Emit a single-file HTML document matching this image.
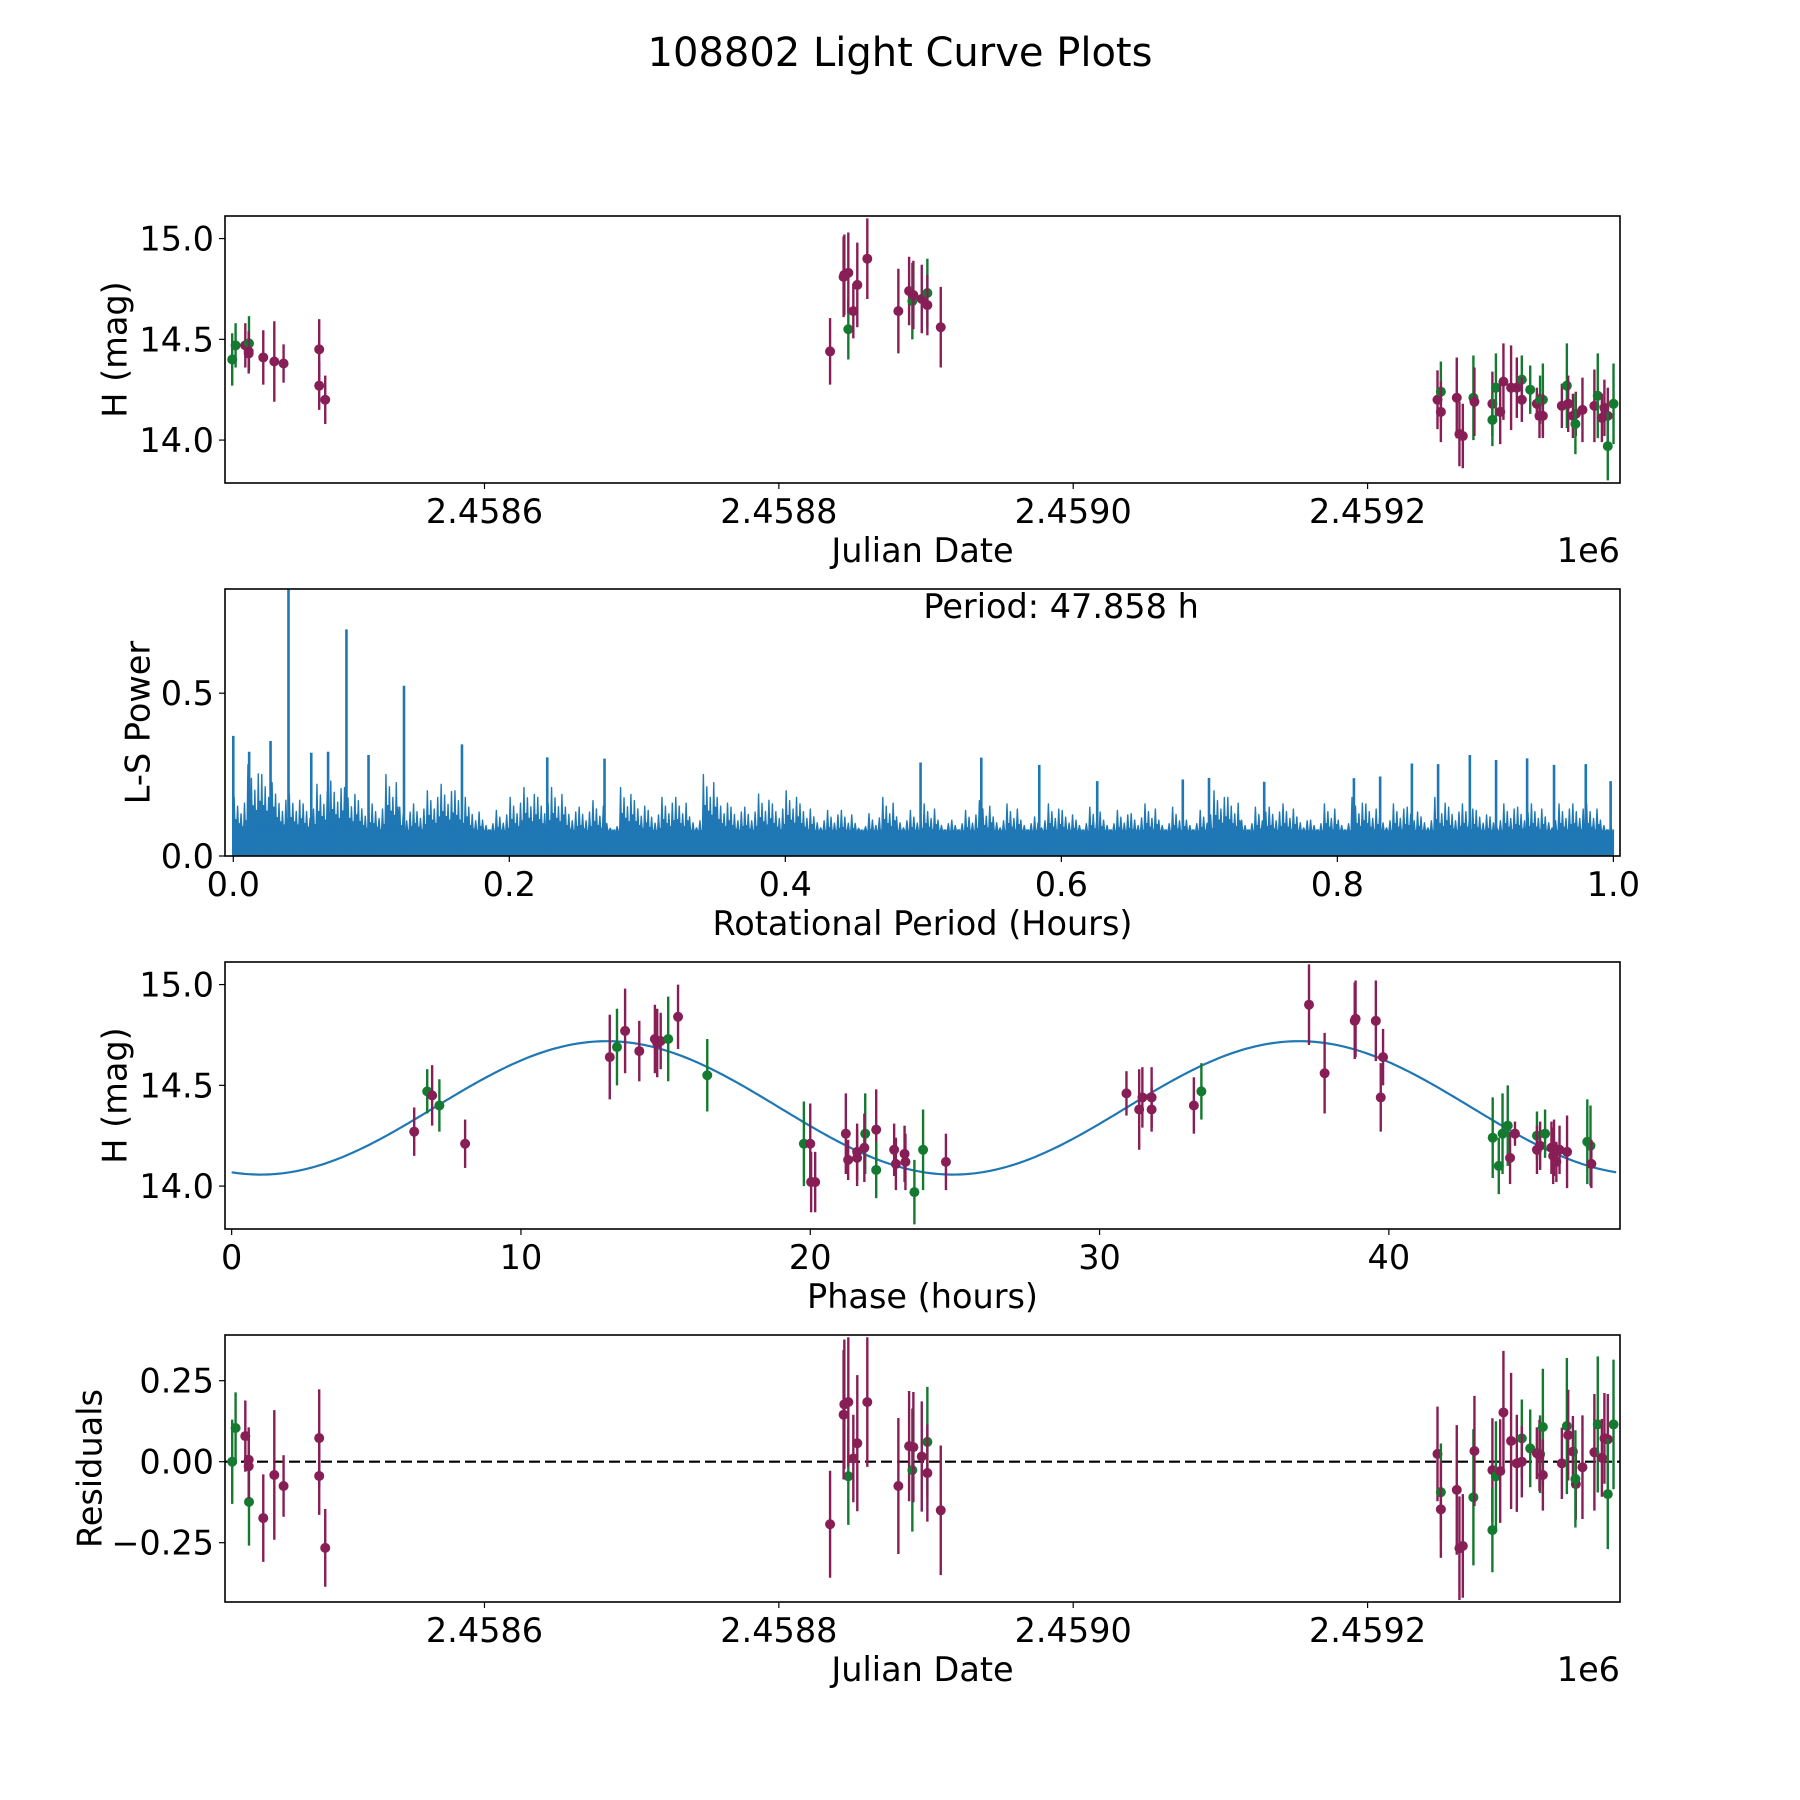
<!DOCTYPE html>
<html><head><meta charset="utf-8"><title>108802 Light Curve Plots</title>
<style>
html,body{margin:0;padding:0;background:#fff;}
svg{display:block;font-family:"DejaVu Sans","Liberation Sans",sans-serif;}
</style></head>
<body>
<svg id="fig" width="1800" height="1800" viewBox="0 0 1800 1800" xmlns="http://www.w3.org/2000/svg">
<rect width="1800" height="1800" fill="#fff"/>
<text x="900" y="66" font-size="40" text-anchor="middle">108802 Light Curve Plots</text>
</svg>
<script>
// ---------- data: top / residual panels (JD - 2458000 days) ----------
const jdDays = [428.6,430.9,437.5,440.0,439.8,439.8,449.7,457.2,463.5,487.7,487.7,491.8,
834.8,847.2,844.5,844.0,847.2,850.6,853.3,860.1,881.2,888.5,890.7,891.4,897.1,900.9,900.9,910.0,
1247.5,1249.8,1249.8,1260.6,1262.4,1264.7,1271.9,1272.6,1284.8,1284.8,1287.2,1290.1,1292.3,1297.5,1301.4,1304.8,1304.8,1310.5,1315.0,1317.2,1316.8,1319.1,1319.1,1332.0,1335.4,1336.3,1339.5,1341.5,1341.2,1346.0,1354.1,1356.4,1359.2,1360.9,1363.2,1363.2,1367.1];
const hMag = [14.40,14.47,14.47,14.48,14.44,14.43,14.41,14.39,14.38,14.45,14.27,14.20,
14.44,14.55,14.82,14.81,14.83,14.64,14.77,14.90,14.64,14.74,14.69,14.72,14.70,14.73,14.67,14.56,
14.20,14.24,14.14,14.21,14.03,14.02,14.21,14.19,14.18,14.10,14.26,14.14,14.29,14.26,14.26,14.30,14.20,14.25,14.18,14.20,14.12,14.20,14.12,14.17,14.27,14.18,14.12,14.13,14.08,14.15,14.17,14.22,14.11,14.16,14.12,13.97,14.18];
const hErr = [0.13,0.11,0.11,0.135,0.10,0.10,0.135,0.20,0.095,0.15,0.12,0.12,
0.165,0.15,0.20,0.20,0.20,0.135,0.21,0.20,0.21,0.17,0.19,0.17,0.17,0.17,0.15,0.20,
0.146,0.15,0.15,0.20,0.16,0.16,0.21,0.17,0.16,0.13,0.17,0.16,0.19,0.21,0.15,0.12,0.11,0.12,0.08,0.12,0.11,0.18,0.11,0.11,0.21,0.14,0.11,0.11,0.15,0.16,0.18,0.21,0.12,0.14,0.14,0.17,0.20];
const band = ['g','g','p','g','p','p','p','p','p','p','p','p',
'p','g','p','p','p','p','p','p','p','p','g','p','p','g','p','p',
'p','g','p','p','p','p','g','p','p','g','g','p','p','p','p','g','p','g','p','g','p','g','p','p','g','p','p','p','g','p','p','g','p','p','p','g','g'];
const resid = [0.00,0.104,0.079,-0.124,0.006,-0.014,-0.174,-0.041,-0.075,0.073,-0.044,-0.266,
-0.193,-0.045,0.177,0.145,0.184,0.01,0.057,0.184,-0.075,0.048,-0.026,0.045,0.016,0.061,-0.035,-0.15,
0.024,-0.094,-0.147,-0.087,-0.267,-0.26,-0.11,0.033,-0.026,-0.211,-0.045,-0.029,0.152,0.064,-0.005,0.072,0.0,0.041,0.026,0.023,0.019,0.107,-0.041,-0.005,0.11,0.082,0.031,-0.069,-0.053,-0.017,0.029,0.115,0.012,0.072,0.069,-0.10,0.115];
// ---------- data: phase panel ----------
const phaseHours = [6.31,6.76,6.93,7.18,8.07,13.07,13.32,13.60,14.09,14.63,14.71,14.83,15.09,15.43,16.44,19.78,20.0,20.03,20.17,21.23,21.31,21.62,21.62,21.90,21.87,22.28,22.28,22.90,22.96,23.26,23.29,23.60,23.90,24.69,
30.93,31.37,31.48,31.80,31.80,33.26,33.52,37.24,37.78,38.82,38.85,39.55,39.80,39.72,43.59,43.80,43.93,44.11,44.19,44.36,45.12,45.12,45.23,45.40,45.62,45.68,45.71,45.79,45.90,46.16,46.86,46.97,47.0];
const phaseMag = [14.27,14.47,14.45,14.40,14.21,14.64,14.69,14.77,14.67,14.73,14.71,14.72,14.73,14.84,14.55,14.21,14.21,14.02,14.02,14.26,14.13,14.17,14.14,14.26,14.19,14.28,14.08,14.18,14.11,14.16,14.12,13.97,14.18,14.12,
14.46,14.38,14.44,14.44,14.38,14.40,14.47,14.90,14.56,14.82,14.83,14.82,14.64,14.44,14.24,14.10,14.26,14.30,14.14,14.26,14.25,14.18,14.20,14.26,14.19,14.15,14.19,14.12,14.18,14.17,14.22,14.20,14.11];
const phaseErr = [0.12,0.11,0.15,0.13,0.12,0.21,0.19,0.21,0.15,0.17,0.17,0.14,0.21,0.16,0.18,0.21,0.20,0.15,0.15,0.20,0.10,0.14,0.14,0.20,0.17,0.20,0.14,0.13,0.13,0.14,0.14,0.16,0.20,0.14,
0.11,0.20,0.15,0.15,0.11,0.14,0.14,0.20,0.20,0.19,0.19,0.20,0.14,0.17,0.20,0.14,0.20,0.20,0.13,0.06,0.12,0.12,0.12,0.12,0.13,0.14,0.14,0.10,0.12,0.18,0.21,0.20,0.12];
const phaseBand = ['p','g','p','g','p','p','g','p','p','p','p','p','g','p','g','g','p','p','p','p','p','p','p','g','p','p','g','p','p','p','p','g','g','p',
'p','p','p','p','p','p','g','p','p','p','p','p','p','p','g','g','g','g','p','p','g','p','p','g','p','p','p','p','p','p','g','g','p'];
// fit model parameters: mean, amplitude, peak phase (h), half period (h)
const fitParams = [14.388, 0.331, 12.97, 23.929];
// ---------- data: periodogram ----------
const binPower = [0.18,0.28,0.25,0.19,0.19,0.16,0.22,0.23,0.21,0.17,0.16,0.25,0.15,0.16,0.20,0.22,0.20,0.15,0.11,0.14,
0.18,0.21,0.18,0.21,0.15,0.15,0.17,0.10,0.21,0.17,0.14,0.18,0.18,0.12,0.25,0.18,0.15,0.15,0.19,0.16,
0.20,0.16,0.12,0.14,0.14,0.10,0.13,0.18,0.12,0.14,0.16,0.11,0.11,0.14,0.17,0.12,0.16,0.11,0.12,0.16,
0.14,0.11,0.15,0.11,0.14,0.13,0.16,0.11,0.15,0.11,0.14,0.20,0.18,0.11,0.15,0.15,0.16,0.12,0.11,0.16,
0.11,0.18,0.16,0.12,0.16,0.15,0.12,0.18,0.15,0.16,0.14,0.12,0.16,0.15,0.16,0.12,0.16,0.16,0.16,0.11];
const peakPeriod = [0.0,0.0115,0.027,0.040,0.0565,0.0687,0.082,0.098,0.1237,0.1657,0.2275,0.269,0.498,0.542,0.584,0.626,0.688,0.707,0.747,0.812,0.831,0.854,0.873,0.896,0.915,0.9375,0.957,0.980,0.998];
const peakPower = [0.369,0.32,0.353,0.82,0.317,0.32,0.696,0.31,0.523,0.343,0.303,0.299,0.287,0.302,0.28,0.23,0.235,0.24,0.228,0.239,0.244,0.284,0.282,0.31,0.295,0.30,0.28,0.282,0.23];
const periodText = "Period: 47.858 h";
const hTicks = [14.0,14.5,15.0];
const jdTicks = [600,800,1000,1200];
const jdTickLabels = ["2.4586","2.4588","2.4590","2.4592"];
const lsXTicks = [0,0.2,0.4,0.6,0.8,1.0];
const lsYTicks = [0.0,0.5];
const phXTicks = [0,10,20,30,40];
const resTicks = [-0.25,0.0,0.25];

const NS = "http://www.w3.org/2000/svg";
const svg = document.getElementById('fig');
const PURPLE = "#881e56", GREEN = "#137a30", BLUE = "#1f77b4";
function mk(tag, attrs, parent){ const e=document.createElementNS(NS,tag); for(const k in attrs) e.setAttribute(k,attrs[k]); (parent||svg).appendChild(e); return e; }
const L=225, R=1620, H=267;
const tops=[216,589,962,1335];
function lin(d0,d1,r0,r1){ return v => r0+(v-d0)/(d1-d0)*(r1-r0); }
const FS=33.5;

function frame(top, name){
  const g=mk('g',{});  
  return g;
}
function border(g, top){
  const r=mk('rect',{x:L,y:top,width:R-L,height:H,fill:'none',stroke:'#000','stroke-width':1.6},g);
   
}
function xTicks(g, top, ticks, labels, sx){
  ticks.forEach((t,i)=>{
    const x=sx(t);
    const l=mk('line',{x1:x,x2:x,y1:top+H,y2:top+H+6,stroke:'#000','stroke-width':1.2},g);
     
    const tx=mk('text',{x:x,y:top+H+40,'font-size':FS,'text-anchor':'middle'},g);
    tx.textContent=labels[i];
     
  });
}
function yTicks(g, ticks, labels, sy){
  ticks.forEach((t,i)=>{
    const y=sy(t);
    const l=mk('line',{x1:L-6,x2:L,y1:y,y2:y,stroke:'#000','stroke-width':1.2},g);
     
    const tx=mk('text',{x:L-11,y:y+12,'font-size':FS,'text-anchor':'end'},g);
    tx.textContent=labels[i];
     
  });
}
function xLabel(g, top, text){
  const t=mk('text',{x:(L+R)/2,y:top+H+79,'font-size':FS,'text-anchor':'middle'},g);
  t.textContent=text;  
}
function yLabel(g, top, text, cx){
  const cy=top+H/2;
  const t=mk('text',{x:cx,y:cy,'font-size':FS,'text-anchor':'middle','dominant-baseline':'central',transform:`rotate(-90 ${cx} ${cy})`},g);
  t.textContent=text;  
}
function errPoint(g, x, y, ey0, ey1, col, clip){
  const l=mk('line',{x1:x,x2:x,y1:ey0,y2:ey1,stroke:col,'stroke-width':2.4,'clip-path':clip},g);
   
  const c=mk('circle',{cx:x,cy:y,r:5,fill:col,'clip-path':clip},g);
   
}
const defs=mk('defs',{});
tops.forEach((t,i)=>{ const cp=mk('clipPath',{id:'c'+i},defs); mk('rect',{x:L,y:t,width:R-L,height:H},cp); });

const jdX = lin(423.7,1371.5,L,R);
const magLo=13.787, magHi=15.112;
// ----- Panel 1 -----
{
  const top=tops[0], g=frame(top,'light-curve-panel');
  const sy=lin(magLo,magHi,top+H,top);
  jdDays.forEach((d,i)=>{
    errPoint(g, jdX(d), sy(hMag[i]), sy(hMag[i]+hErr[i]), sy(hMag[i]-hErr[i]), band[i]==='g'?GREEN:PURPLE, 'url(#c0)');
  });
  border(g,top);
  xTicks(g,top,jdTicks,jdTickLabels,jdX);
  yTicks(g,hTicks,hTicks.map(v=>v.toFixed(1)),sy);
  xLabel(g,top,'Julian Date');
  yLabel(g,top,'H (mag)',115);
  const o=mk('text',{x:R,y:top+H+79,'font-size':FS,'text-anchor':'end'},g); o.textContent='1e6';
   
}
// ----- Panel 2: periodogram -----
{
  const top=tops[1], g=frame(top,'periodogram-panel');
  const sx=lin(-0.006,1.0048,L,R), sy=lin(0,0.82,top+H,top);
  const pattern=[1,0.62,0.85,0.55,0.72,0.5,0.9,0.6];
  let d='M'+sx(0)+' '+sy(0);
  binPower.forEach((p,i)=>{
    const x0=i*0.01;
    pattern.forEach((f,j)=>{
      const xa=sx(x0+j*0.01/pattern.length), xb=sx(x0+(j+0.5)*0.01/pattern.length);
      d+=` L${xa.toFixed(2)} ${sy(0.08).toFixed(2)} L${xb.toFixed(2)} ${sy(p*f).toFixed(2)}`;
    });
  });
  d+=` L${sx(1.0)} ${sy(0.08)} L${sx(1.0)} ${sy(0)} Z`;
  const area=mk('path',{d:d,fill:BLUE,stroke:BLUE,'stroke-width':1.4,'stroke-linejoin':'round','clip-path':'url(#c1)'},g);
   
  peakPeriod.forEach((p,i)=>{
    const l=mk('line',{x1:sx(p),x2:sx(p),y1:sy(0),y2:sy(peakPower[i]),stroke:BLUE,'stroke-width':2.6,'clip-path':'url(#c1)'},g);
     
  });
  border(g,top);
  xTicks(g,top,lsXTicks,lsXTicks.map(v=>v.toFixed(1)),sx);
  yTicks(g,lsYTicks,lsYTicks.map(v=>v.toFixed(1)),sy);
  xLabel(g,top,'Rotational Period (Hours)');
  yLabel(g,top,'L-S Power',138);
  const pt=mk('text',{x:sx(0.5),y:top+29,'font-size':FS,'text-anchor':'start'},g); pt.textContent=periodText;
   
}
// ----- Panel 3: phase -----
{
  const top=tops[2], g=frame(top,'phase-panel');
  const sx=lin(-0.23,47.99,L,R), sy=lin(magLo,magHi,top+H,top);
  const [m0,amp,pk,per]=fitParams;
  let d='';
  for(let k=0;k<=400;k++){ const ph=47.858*k/400; const m=m0+amp*Math.cos(2*Math.PI*(ph-pk)/per); d+=(k?'L':'M')+sx(ph).toFixed(2)+' '+sy(m).toFixed(2); }
  const c=mk('path',{d:d,fill:'none',stroke:BLUE,'stroke-width':2.2,'clip-path':'url(#c2)'},g);
   
  phaseHours.forEach((p,i)=>{
    errPoint(g, sx(p), sy(phaseMag[i]), sy(phaseMag[i]+phaseErr[i]), sy(phaseMag[i]-phaseErr[i]), phaseBand[i]==='g'?GREEN:PURPLE, 'url(#c2)');
  });
  border(g,top);
  xTicks(g,top,phXTicks,phXTicks.map(String),sx);
  yTicks(g,hTicks,hTicks.map(v=>v.toFixed(1)),sy);
  xLabel(g,top,'Phase (hours)');
  yLabel(g,top,'H (mag)',115);
}
// ----- Panel 4: residuals -----
{
  const top=tops[3], g=frame(top,'residuals-panel');
  const sy=lin(-0.433,0.391,top+H,top);
  const z=mk('line',{x1:L,x2:R,y1:sy(0),y2:sy(0),stroke:'#000','stroke-width':2.2,'stroke-dasharray':'11,5'},g);
   
  jdDays.forEach((d,i)=>{
    errPoint(g, jdX(d), sy(resid[i]), sy(resid[i]+hErr[i]), sy(resid[i]-hErr[i]), band[i]==='g'?GREEN:PURPLE, 'url(#c3)');
  });
  border(g,top);
  xTicks(g,top,jdTicks,jdTickLabels,jdX);
  yTicks(g,resTicks,resTicks.map(v=>(v<0?'\u2212':'')+Math.abs(v).toFixed(2)),sy);
  xLabel(g,top,'Julian Date');
  yLabel(g,top,'Residuals',90);
  const o=mk('text',{x:R,y:top+H+79,'font-size':FS,'text-anchor':'end'},g); o.textContent='1e6';
   
}
</script>
</body></html>
